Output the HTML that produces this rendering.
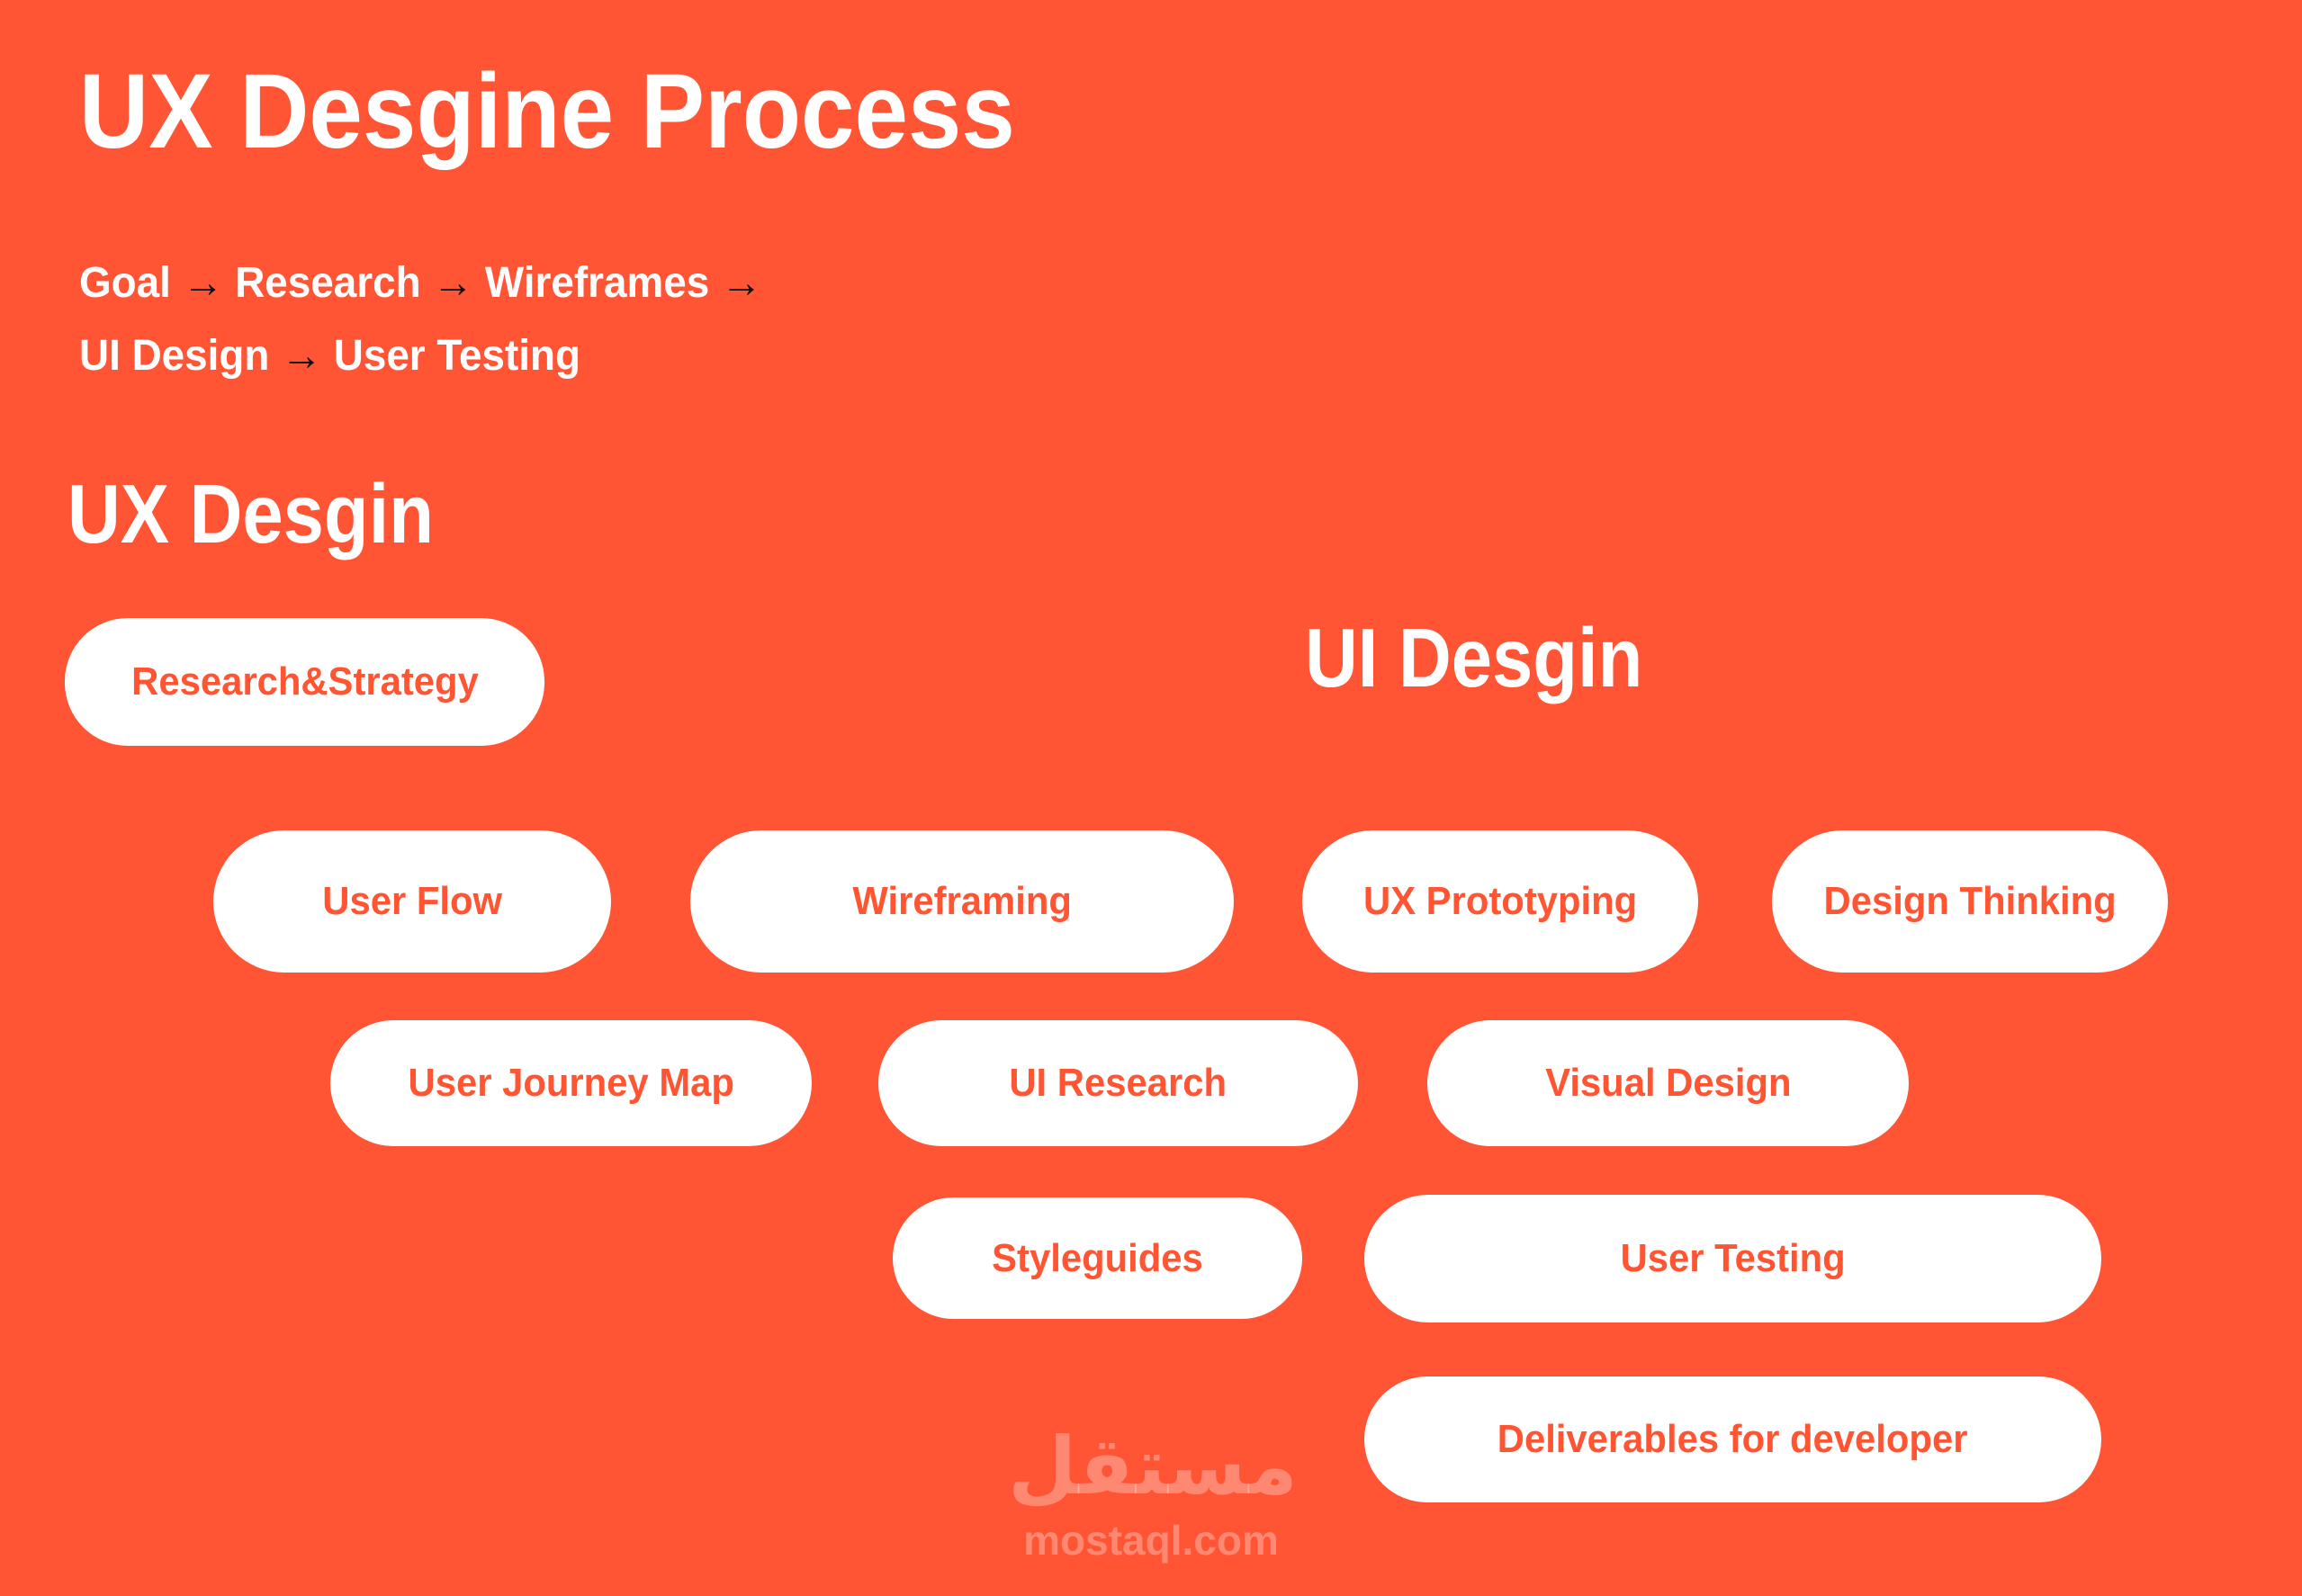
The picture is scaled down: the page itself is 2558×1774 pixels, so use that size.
<!DOCTYPE html>
<html><head><meta charset="utf-8"><style>
html,body{margin:0;padding:0}
body{width:2558px;height:1774px;background:#FF5535;position:relative;overflow:hidden;font-family:"Liberation Sans",sans-serif;font-weight:bold}
.t{position:absolute;color:#fff;white-space:nowrap;transform-origin:left top}
.a{color:#111;font-weight:normal}
.p{position:absolute;background:#fff;border-radius:80px;display:flex;align-items:center;justify-content:center}
.p span{color:#FF5533;font-size:44px;display:inline-block;transform:scaleX(0.95);white-space:nowrap}
</style></head><body>
<div class="t" style="left:88px;top:56px;font-size:118px;transform:scaleX(0.906)">UX Desgine Process</div>
<div class="t" style="left:88px;top:287px;font-size:48px;transform:scaleX(0.955)">Goal <span class="a">→</span> Research <span class="a">→</span> Wireframes <span class="a">→</span></div>
<div class="t" style="left:88px;top:368px;font-size:48px;transform:scaleX(0.955)">UI Design <span class="a">→</span> User Testing</div>
<div class="t" style="left:75px;top:518px;font-size:93px;transform:scaleX(0.875)">UX Desgin</div>
<div class="t" style="left:1450px;top:678px;font-size:93px;transform:scaleX(0.875)">UI Desgin</div>

<div class="p" style="left:72px;top:687px;width:533px;height:142px;border-radius:70px"><span>Research&amp;Strategy</span></div>
<div class="p" style="left:237px;top:923px;width:442px;height:158px"><span>User Flow</span></div>
<div class="p" style="left:767px;top:923px;width:604px;height:158px"><span>Wireframing</span></div>
<div class="p" style="left:1447px;top:923px;width:440px;height:158px"><span>UX Prototyping</span></div>
<div class="p" style="left:1969px;top:923px;width:440px;height:158px"><span>Design Thinking</span></div>
<div class="p" style="left:367px;top:1134px;width:535px;height:140px"><span>User Journey Map</span></div>
<div class="p" style="left:976px;top:1134px;width:533px;height:140px"><span>UI Research</span></div>
<div class="p" style="left:1586px;top:1134px;width:535px;height:140px"><span>Visual Design</span></div>
<div class="p" style="left:992px;top:1331px;width:455px;height:135px"><span>Styleguides</span></div>
<div class="p" style="left:1516px;top:1328px;width:819px;height:142px"><span>User Testing</span></div>
<div class="p" style="left:1516px;top:1530px;width:819px;height:140px"><span>Deliverables for developer</span></div>

<div style="position:absolute;left:1120px;top:1575px;width:320px;text-align:center;color:rgba(255,255,255,0.3);font-family:'DejaVu Sans',sans-serif;font-size:88px;line-height:110px">مستقل</div>
<div style="position:absolute;left:1124px;top:1685px;width:310px;text-align:center;color:rgba(255,255,255,0.3);font-size:46px;font-family:'Liberation Sans',sans-serif">mostaql.com</div>
</body></html>
